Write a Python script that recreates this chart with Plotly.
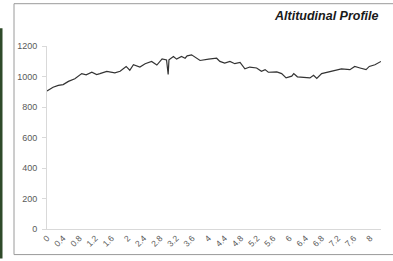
import plotly.graph_objects as go

distance_km = [0.00, 0.05, 0.15, 0.28, 0.40, 0.53, 0.69, 0.86, 0.97, 1.11, 1.23, 1.31, 1.48, 1.68,
               1.81, 1.96, 2.05, 2.14, 2.30, 2.43, 2.59, 2.72, 2.85, 2.96, 3.00, 3.02, 3.13, 3.21,
               3.33, 3.42, 3.47, 3.58, 3.79, 4.00, 4.20, 4.28, 4.40, 4.53, 4.65, 4.78, 4.90, 5.02,
               5.19, 5.31, 5.40, 5.48, 5.69, 5.81, 5.92, 6.06, 6.11, 6.20, 6.51, 6.60, 6.68, 6.80,
               6.96, 7.09, 7.29, 7.50, 7.62, 7.75, 7.90, 7.98, 8.12, 8.27]
elevation_m = [905, 915, 930, 942, 947, 968, 985, 1019, 1011, 1028, 1013, 1019, 1034, 1024,
               1034, 1066, 1041, 1077, 1062, 1084, 1099, 1075, 1116, 1108, 1013, 1110, 1131, 1114,
               1131, 1120, 1135, 1142, 1105, 1114, 1120, 1099, 1088, 1099, 1084, 1092, 1050, 1062,
               1056, 1034, 1045, 1028, 1030, 1019, 991, 1002, 1019, 998, 991, 1008, 987, 1019,
               1028, 1034, 1050, 1045, 1066, 1056, 1045, 1066, 1077, 1099]

x_tick_values = [round(0.4 * i, 1) for i in range(21)]
x_tick_labels = ["0", "0.4", "0.8", "1.2", "1.6", "2", "2.4", "2.8", "3.2", "3.6", "4",
                 "4.4", "4.8", "5.2", "5.6", "6", "6.4", "6.8", "7.2", "7.6", "8"]
y_tick_values = [0, 200, 400, 600, 800, 1000, 1200]

title_text = "Altitudinal Profile"

fig = go.Figure()
fig.add_trace(go.Scatter(
    x=distance_km, y=elevation_m, mode="lines",
    line=dict(color="#333333", width=1.2),
    showlegend=False, hoverinfo="skip",
))

L, R, T, B = 47, 12, 46, 29
W, H = 393, 261
pw, ph = W - L - R, H - T - B

def px_x(p):
    return (p - L) / pw

def px_y(p):
    return (H - B - p) / ph

fig.update_layout(
    width=W, height=H,
    margin=dict(l=L, r=R, t=T, b=B, pad=0),
    paper_bgcolor="white", plot_bgcolor="white",
    font=dict(family="Liberation Sans, Arial, sans-serif", size=9, color="#595959"),
    xaxis=dict(
        range=[0, 8.27], tickmode="array", tickvals=x_tick_values, ticktext=x_tick_labels,
        tickangle=-45, showgrid=False, zeroline=False, showline=True,
        linecolor="#d9d9d9", linewidth=1, ticks="", tickfont=dict(size=8.5, color="#595959"),
        fixedrange=True,
    ),
    yaxis=dict(
        range=[0, 1200], tickmode="array", tickvals=y_tick_values,
        showgrid=False, zeroline=False, showline=True, linecolor="#d9d9d9", linewidth=1,
        ticks="outside", ticklen=4, tickcolor="#d9d9d9", tickfont=dict(size=9, color="#595959"),
        ticklabelstandoff=3, fixedrange=True,
    ),
    shapes=[
        dict(type="rect", xref="paper", yref="paper",
             x0=px_x(14), x1=px_x(400), y0=px_y(258), y1=px_y(3),
             line=dict(color="#9a9a9a", width=1), fillcolor="rgba(0,0,0,0)", layer="below"),
        dict(type="rect", xref="paper", yref="paper",
             x0=px_x(-3), x1=px_x(2.5), y0=px_y(262), y1=px_y(28),
             line=dict(width=0), fillcolor="#2f4a2a", layer="below"),
    ],
    annotations=[
        dict(text="<b><i>" + title_text + "</i></b>", xref="paper", yref="paper",
             x=px_x(272), y=px_y(16), xanchor="left", yanchor="middle", showarrow=False,
             font=dict(family="Liberation Sans, Arial, sans-serif", size=12.5, color="#1a1a1a")),
    ],
)

fig.write_html("out.html", config={"displayModeBar": False},
               post_script="document.body.style.margin='0';")
